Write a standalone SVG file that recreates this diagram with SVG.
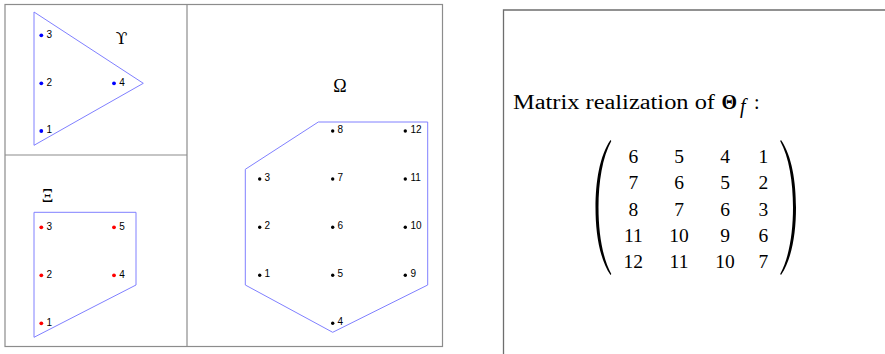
<svg xmlns="http://www.w3.org/2000/svg" width="885" height="354" viewBox="0 0 885 354">
<style>
.frame{fill:none;stroke:#8c8c8c;stroke-width:1.2}
.frame2{fill:none;stroke:#6e6e6e;stroke-width:1.3}
.poly{fill:none;stroke:#8080ff;stroke-width:1}
.lbl{font-family:"Liberation Sans",Arial,sans-serif;font-size:10px;fill:#000}
.greek{font-family:"Liberation Serif","DejaVu Serif",serif;font-size:18px;fill:#000;text-anchor:middle}
.b{fill:#0000ff}.r{fill:#ff0000}.k{fill:#000}
.mat{font-family:"Liberation Serif","Times New Roman",serif;font-size:19.5px;fill:#000;text-anchor:middle}
.txt{font-family:"Liberation Serif","Times New Roman",serif;font-size:20px;fill:#000}
</style>
<defs>
<path id="paren" d="M 610.5 140 C 599.5 156, 595.5 182, 595.5 207.5 C 595.5 233, 599.5 259, 610.5 275 L 611.3 274 C 602.5 258, 598.5 233, 598.5 207.5 C 598.5 182, 602.5 157, 611.3 141 Z" fill="#000"/>
</defs>
<rect width="885" height="354" fill="#fff"/>
<g id="frames">
<rect class="frame" x="5" y="4.5" width="437.5" height="342"/>
<line class="frame" x1="187" y1="4.5" x2="187" y2="346.5"/>
<line class="frame" x1="5" y1="155" x2="187" y2="155"/>
<path class="frame2" d="M503.5 354 V10 H885"/>
</g>
<g id="upsilon">
<polygon class="poly" points="34,12 143.3,83.3 34,145.3"/>
<text class="greek" x="121.7" y="43.5" style="font-family:'DejaVu Serif',serif;font-size:17px">ϒ</text>
<circle class="b" cx="41.3" cy="35.3" r="1.9"/><text class="lbl" x="46.5" y="37.5">3</text>
<circle class="b" cx="41.3" cy="83.3" r="1.9"/><text class="lbl" x="46.5" y="85.5">2</text>
<circle class="b" cx="41.3" cy="131" r="1.9"/><text class="lbl" x="46.5" y="133.2">1</text>
<circle class="b" cx="114" cy="83.3" r="1.9"/><text class="lbl" x="119.2" y="85.5">4</text>
</g>
<g id="xi">
<polygon class="poly" points="34,212.3 136,212.3 136,285 34,337.3"/>
<text class="greek" x="47.5" y="201.5">Ξ</text>
<circle class="r" cx="41.3" cy="227.3" r="1.9"/><text class="lbl" x="46.5" y="229.5">3</text>
<circle class="r" cx="114" cy="227.3" r="1.9"/><text class="lbl" x="119.2" y="229.5">5</text>
<circle class="r" cx="41.3" cy="275.3" r="1.9"/><text class="lbl" x="46.5" y="277.5">2</text>
<circle class="r" cx="114" cy="275.3" r="1.9"/><text class="lbl" x="119.2" y="277.5">4</text>
<circle class="r" cx="41.3" cy="323.3" r="1.9"/><text class="lbl" x="46.5" y="325.5">1</text>
</g>
<g id="omega">
<polygon class="poly" points="318.3,122 427.7,122 427.7,285 332.7,332.3 245.3,285 245.3,169.3"/>
<text class="greek" x="340" y="92">Ω</text>
<circle class="k" cx="332.7" cy="131" r="1.7"/><text class="lbl" x="337.5" y="133">8</text>
<circle class="k" cx="405.3" cy="131" r="1.7"/><text class="lbl" x="410.5" y="133">12</text>
<circle class="k" cx="259.7" cy="179" r="1.7"/><text class="lbl" x="264.5" y="181">3</text>
<circle class="k" cx="332.7" cy="179" r="1.7"/><text class="lbl" x="337.5" y="181">7</text>
<circle class="k" cx="405.3" cy="179" r="1.7"/><text class="lbl" x="410.5" y="181">11</text>
<circle class="k" cx="259.7" cy="227.3" r="1.7"/><text class="lbl" x="264.5" y="229.3">2</text>
<circle class="k" cx="332.7" cy="227.3" r="1.7"/><text class="lbl" x="337.5" y="229.3">6</text>
<circle class="k" cx="405.3" cy="227.3" r="1.7"/><text class="lbl" x="410.5" y="229.3">10</text>
<circle class="k" cx="259.7" cy="275.3" r="1.7"/><text class="lbl" x="264.5" y="277.3">1</text>
<circle class="k" cx="332.7" cy="275.3" r="1.7"/><text class="lbl" x="337.5" y="277.3">5</text>
<circle class="k" cx="405.3" cy="275.3" r="1.7"/><text class="lbl" x="410.5" y="277.3">9</text>
<circle class="k" cx="332.7" cy="323.3" r="1.7"/><text class="lbl" x="337.5" y="325.3">4</text>
</g>
<g id="matrix">
<text class="txt" x="513" y="108.5" textLength="202" lengthAdjust="spacingAndGlyphs">Matrix realization of</text>
<text class="txt" x="721.5" y="108.5" font-weight="bold" font-size="20">Θ</text>
<text class="txt" x="740" y="112.5" font-style="italic" font-size="14">f</text>
<text class="txt" x="754" y="108.5">:</text>
<use href="#paren"/>
<use href="#paren" transform="translate(1391.5,0) scale(-1,1)"/>
<g class="mat">
<text x="633.3" y="163">6</text><text x="679" y="163">5</text><text x="725" y="163">4</text><text x="763.3" y="163">1</text>
<text x="633.3" y="189.3">7</text><text x="679" y="189.3">6</text><text x="725" y="189.3">5</text><text x="763.3" y="189.3">2</text>
<text x="633.3" y="215.6">8</text><text x="679" y="215.6">7</text><text x="725" y="215.6">6</text><text x="763.3" y="215.6">3</text>
<text x="633.3" y="241.9">11</text><text x="679" y="241.9">10</text><text x="725" y="241.9">9</text><text x="763.3" y="241.9">6</text>
<text x="633.3" y="268.2">12</text><text x="679" y="268.2">11</text><text x="725" y="268.2">10</text><text x="763.3" y="268.2">7</text>
</g>
</g>
</svg>
